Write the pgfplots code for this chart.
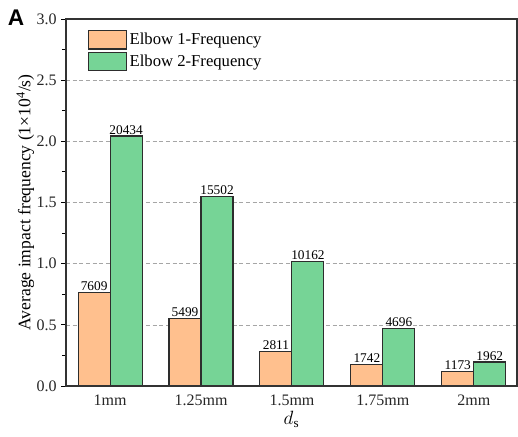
\documentclass[border=0pt]{standalone}
\usepackage{fontspec}
\setmainfont{Liberation Serif}
\newfontfamily\panelfont{Liberation Sans}
\usepackage{pgfplots}
\pgfplotsset{compat=1.18}

\definecolor{elbowA}{RGB}{255,192,142}
\definecolor{elbowB}{RGB}{118,212,150}
\definecolor{edge}{RGB}{45,45,45}

\begin{document}
\begin{tikzpicture}
\path[use as bounding box] (0,0) rectangle (388.5pt,327pt);
\begin{axis}[
  at={(49.5pt,37.5pt)}, anchor=south west,
  width=338.25pt, height=275.25pt, scale only axis,
  clip=false,
  ybar=0pt, bar width=24pt,
  xmin=-0.485, xmax=4.475,
  ymin=0, ymax=3.0,
  xtick={0,1,2,3,4},
  xticklabels={1mm,1.25mm,1.5mm,1.75mm,2mm},
  major x tick style={/pgfplots/major tick length=0pt},
  ytick={0,0.5,...,3.0},
  minor y tick num=1,
  y tick label style={/pgf/number format/.cd,fixed,fixed zerofill,precision=1},
  /pgf/number format/assume math mode=true,
  tick label style={font=\fontsize{12}{14}\selectfont, text=black!85},
  ytick pos=left, xtick pos=bottom,
  tick align=outside,
  major tick length=3.5pt, minor tick length=3pt,
  tick style={black, line width=0.7pt},
  axis line style={line width=1.1pt, black!80},
  ymajorgrids,
  major grid style={densely dashed, gray!70, line width=0.5pt},
  xlabel={$d_{\mathrm{s}}$},
  xlabel style={font=\fontsize{14}{16}\selectfont, yshift=3pt},
  ylabel={Average impact frequency (1×10\textsuperscript{4}/s)},
  ylabel style={font=\fontsize{13.2}{15}\selectfont, yshift=-5pt},
  nodes near coords,
  point meta=explicit symbolic,
  every node near coord/.append style={font=\fontsize{10}{12}\selectfont, text=black, inner sep=1pt},
  legend style={at={(0.045,0.975)}, anchor=north west, draw=none, fill=none,
    font=\fontsize{12.5}{14}\selectfont, row sep=1.5pt, inner sep=1pt},
  legend cell align=left,
  legend image code/.code={\draw[#1, line width=0.8pt] (0pt,-7pt) rectangle (28.5pt,7pt);},
]
\addplot[fill=elbowA, draw=edge, line width=0.8pt] coordinates {
  (0,0.7609) [7609]
  (1,0.5499) [5499]
  (2,0.2811) [2811]
  (3,0.1742) [1742]
  (4,0.1173) [1173]
};
\addplot[fill=elbowB, draw=edge, line width=0.8pt] coordinates {
  (0,2.0434) [20434]
  (1,1.5502) [15502]
  (2,1.0162) [10162]
  (3,0.4696) [4696]
  (4,0.1962) [1962]
};
\legend{Elbow 1-Frequency, Elbow 2-Frequency}
\end{axis}
% frame of the plotting area, drawn on top
\draw[line width=1.1pt, black!80] (49.5pt,37.5pt) rectangle (387.75pt,312.75pt);
\node[font=\panelfont\bfseries\fontsize{17}{19}\selectfont, anchor=center] at (12pt,314pt) {A};
\end{tikzpicture}
\end{document}
